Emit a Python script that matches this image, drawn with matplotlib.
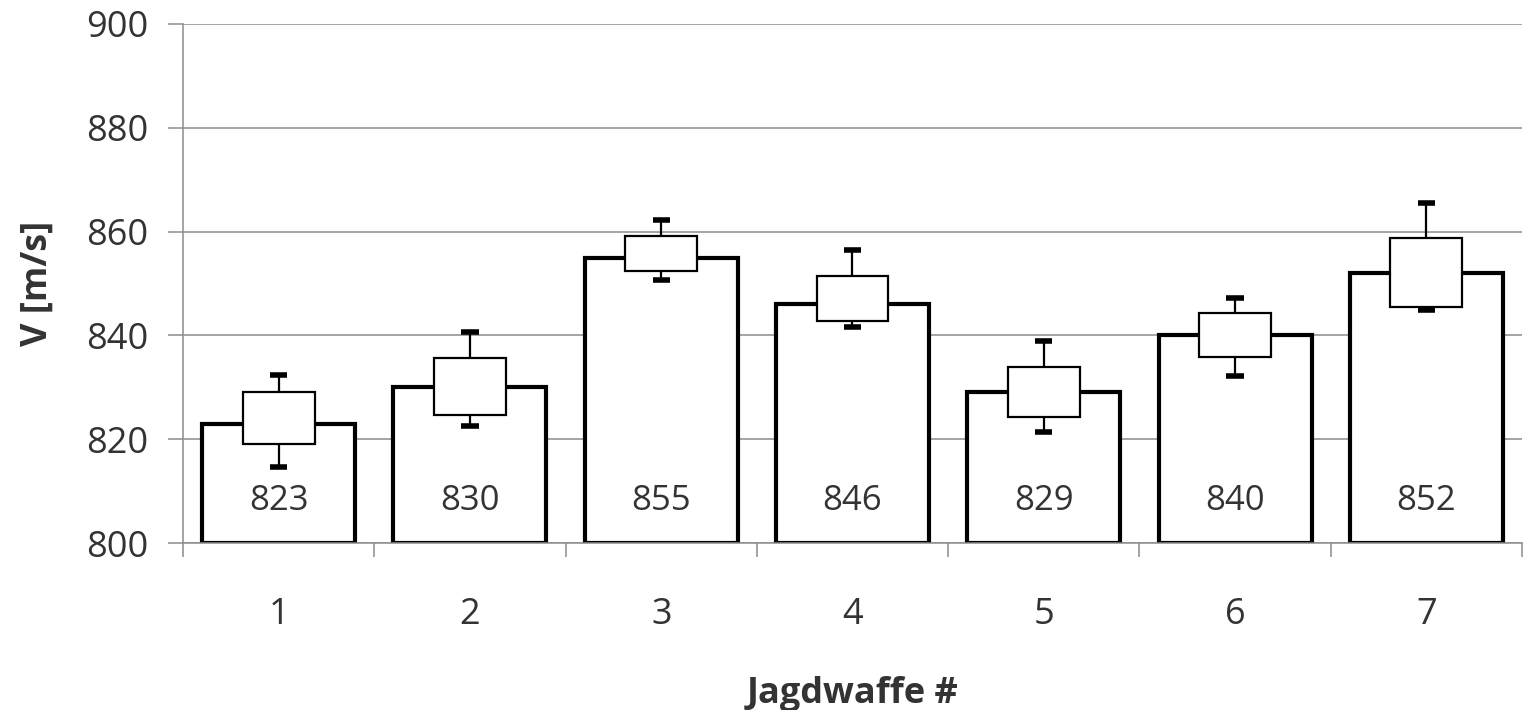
import matplotlib.pyplot as plt
import numpy as np

# muzzle velocity per hunting rifle
guns = ["1", "2", "3", "4", "5", "6", "7"]
v_mean = [823, 830, 855, 846, 829, 840, 852]
box_hi = [829.0, 835.7, 859.2, 851.5, 834.0, 844.3, 858.8]
box_lo = [819.1, 824.7, 852.5, 842.8, 824.2, 835.8, 845.5]
whisk_hi = [832.4, 840.7, 862.2, 856.5, 839.0, 847.3, 865.6]
whisk_lo = [814.7, 822.5, 850.7, 841.7, 821.3, 832.2, 844.9]

plt.rcParams['font.family'] = ['Open Sans', 'DejaVu Sans']
txt = '#333333'
grey = '#8c8c8c'

fig = plt.figure(figsize=(15.29, 7.10), dpi=100)
ax = fig.add_axes([0.1197, 0.2352, 0.8757, 0.7310])

x = np.arange(1, len(guns) + 1)
base = 800

ax.bar(x, np.array(v_mean) - base, bottom=base, width=0.80,
       color='white', edgecolor='black', linewidth=3.0, zorder=2)

ax.bar(x, np.array(box_hi) - np.array(box_lo), bottom=box_lo, width=0.375,
       color='white', edgecolor='black', linewidth=1.6, zorder=3)

ax.vlines(x, box_hi, whisk_hi, color='black', linewidth=1.6, zorder=3)
ax.vlines(x, whisk_lo, box_lo, color='black', linewidth=1.6, zorder=3)
for cap in (whisk_hi, whisk_lo):
    ax.hlines(cap, x - 0.045, x + 0.045, color='black', linewidth=4.0,
              zorder=4, capstyle='butt')

for xi, v in zip(x, v_mean):
    ax.text(xi, base + 8.0, str(v), ha='center', va='center',
            fontsize=25, color=txt, zorder=5)

ax.set_xlim(0.5, len(guns) + 0.5)
ax.set_ylim(800, 900)
ax.set_yticks(np.arange(800, 901, 20))
ax.yaxis.grid(True, color=grey, linewidth=1.1, zorder=0)
ax.set_axisbelow(True)

# ticks between categories, labels centered under bars
ax.set_xticks(np.arange(0.5, len(guns) + 1, 1.0))
ax.set_xticklabels([])
ax.set_xticks(x, minor=True)
ax.set_xticklabels(guns, minor=True)
ax.tick_params(axis='x', which='major', length=10, width=1.1, color=grey)
ax.tick_params(axis='x', which='minor', length=0, pad=39, labelsize=26,
               labelcolor=txt)
ax.tick_params(axis='y', length=11, width=1.1, color=grey, labelsize=26,
               labelcolor=txt, pad=14)

for s in ('top', 'right'):
    ax.spines[s].set_visible(False)
for s in ('left', 'bottom'):
    ax.spines[s].set_color(grey)
    ax.spines[s].set_linewidth(1.1)

ax.set_xlabel('Jagdwaffe #', fontsize=26, fontweight='bold', color=txt,
              labelpad=31)
ax.set_ylabel('V [m/s]', fontsize=26, fontweight='bold', color=txt,
              labelpad=22)

fig.savefig('out.png', dpi=100)
